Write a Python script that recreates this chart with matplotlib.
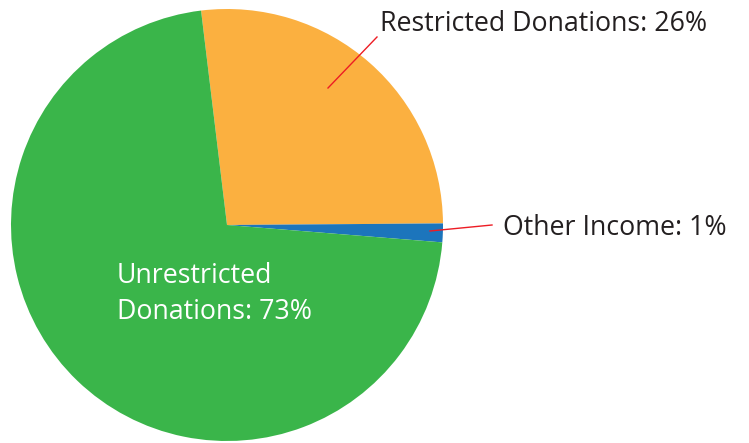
import matplotlib
matplotlib.use("Agg")
import matplotlib.pyplot as plt

# wedge shares as drawn (labels show the rounded figures)
categories = ["Restricted Donations", "Other Income", "Unrestricted Donations"]
shares = [26.8, 1.4, 71.8]
labels = ["26%", "1%", "73%"]
colors = ["#FBB040", "#1C75BC", "#3AB54A"]

W, H = 749, 443
fig = plt.figure(figsize=(W / 100, H / 100), dpi=100)
ax = fig.add_axes([0, 0, 1, 1])

ax.pie(shares, colors=colors, startangle=96.9, counterclock=False,
       center=(227, H - 225), radius=216, frame=True,
       wedgeprops=dict(linewidth=0))
ax.set_xlim(0, W)
ax.set_ylim(0, H)
ax.axis("off")

font = dict(family=["Open Sans", "DejaVu Sans"], fontsize=19.3)
red = "#ED1C24"
ink = "#231F20"

# leader lines
ax.plot([328, 377], [H - 88, H - 37], color=red, lw=1)
ax.plot([430, 492], [H - 231, H - 225], color=red, lw=1)

ax.text(380, H - 31, f"{categories[0]}: {labels[0]}", color=ink,
        va="baseline", ha="left", **font)
ax.text(503, H - 235, f"{categories[1]}: {labels[1]}", color=ink,
        va="baseline", ha="left", **font)
ax.text(117, H - 283, "Unrestricted", color="white",
        va="baseline", ha="left", **font)
ax.text(117, H - 319, f"Donations: {labels[2]}", color="white",
        va="baseline", ha="left", **font)

fig.savefig("out.png", dpi=100)
